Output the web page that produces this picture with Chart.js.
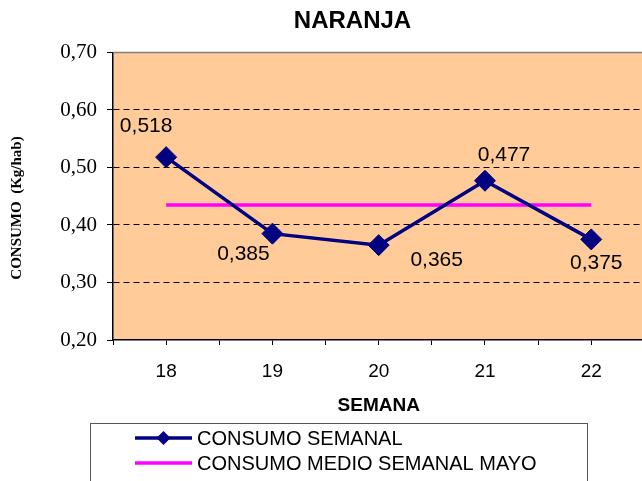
<!DOCTYPE html>
<html>
<head>
<meta charset="utf-8">
<script src="https://cdn.jsdelivr.net/npm/chart.js@4/dist/chart.umd.min.js"></script>
<style>
html,body{margin:0;padding:0;overflow:hidden;background:#fff;width:642px;height:481px;}
canvas{display:block;}
</style>
</head>
<body>
<canvas id="c" width="660" height="481"></canvas>
<script>
// ---- data ----
const semanas = [18, 19, 20, 21, 22];
const consumoSemanal = [0.518, 0.385, 0.365, 0.477, 0.375];
const consumoMedioMayo = [0.435, 0.435, 0.435, 0.435, 0.435];
const valueLabels = ['0,518', '0,385', '0,365', '0,477', '0,375'];
const yTicks = [0.2, 0.3, 0.4, 0.5, 0.6, 0.7];
const chartTitle = 'NARANJA';
const xTitle = 'SEMANA';
const yTitle = 'CONSUMO  (Kg/hab)';
const seriesNames = ['CONSUMO SEMANAL', 'CONSUMO MEDIO SEMANAL MAYO'];

// ---- styling (label placement offsets, px) ----
const labelDx = [-20, -29, 58, 19, 5];
const labelDy = [-31, 21, 15, -26, 24];

const NAVY = '#000080';
const MAGENTA = '#FF00FF';
const SANS = "'Liberation Sans', Arial, sans-serif";
const SERIF = "'Liberation Serif', 'Times New Roman', serif";

const near = (a, b) => Math.abs(a - b) < 1e-6;

const decorPlugin = {
  id: 'decor',
  beforeDraw(chart) {
    const {ctx, chartArea: a} = chart;
    ctx.save();
    ctx.fillStyle = '#FFCC99';
    ctx.fillRect(a.left, a.top, a.right - a.left, a.bottom - a.top);
    ctx.restore();
  },
  afterDraw(chart) {
    const {ctx, chartArea: a} = chart;
    ctx.save();
    // top border of plot area
    ctx.strokeStyle = '#808080';
    ctx.lineWidth = 1.5;
    ctx.beginPath();
    ctx.moveTo(a.left, a.top);
    ctx.lineTo(a.right, a.top);
    ctx.stroke();
    // y axis title
    ctx.fillStyle = '#000';
    ctx.font = 'bold 15px ' + SERIF;
    ctx.textAlign = 'center';
    ctx.textBaseline = 'middle';
    ctx.translate(17, 208);
    ctx.rotate(-Math.PI / 2);
    ctx.fillText(yTitle, 0, 0);
    ctx.restore();

    // legend
    ctx.save();
    ctx.strokeStyle = '#555';
    ctx.lineWidth = 1;
    ctx.strokeRect(90.5, 423.5, 497, 80);
    const rows = [438, 463];
    const colors = [NAVY, MAGENTA];
    rows.forEach((ry, i) => {
      ctx.strokeStyle = colors[i];
      ctx.lineWidth = 3.5;
      ctx.beginPath();
      ctx.moveTo(135, ry);
      ctx.lineTo(192, ry);
      ctx.stroke();
      if (i === 0) {
        ctx.fillStyle = NAVY;
        ctx.beginPath();
        const cx = 163.5, r = 7;
        ctx.moveTo(cx, ry - r);
        ctx.lineTo(cx + r, ry);
        ctx.lineTo(cx, ry + r);
        ctx.lineTo(cx - r, ry);
        ctx.closePath();
        ctx.fill();
      }
      ctx.fillStyle = '#000';
      ctx.font = '20px ' + SANS;
      ctx.textAlign = 'left';
      ctx.textBaseline = 'middle';
      ctx.fillText(seriesNames[i], 197, ry + 1);
    });
    ctx.restore();
  },
  afterDatasetsDraw(chart) {
    const {ctx} = chart;
    const meta = chart.getDatasetMeta(0);
    ctx.save();
    ctx.fillStyle = '#000';
    ctx.font = '21px ' + SANS;
    ctx.textAlign = 'center';
    ctx.textBaseline = 'middle';
    meta.data.forEach((pt, i) => {
      ctx.fillText(valueLabels[i], pt.x + labelDx[i], pt.y + labelDy[i]);
    });
    ctx.restore();
  }
};

new Chart(document.getElementById('c'), {
  type: 'line',
  data: {
    datasets: [
      {
        label: seriesNames[0],
        data: semanas.map((s, i) => ({x: s, y: consumoSemanal[i]})),
        borderColor: NAVY,
        backgroundColor: NAVY,
        borderWidth: 3.5,
        pointStyle: 'rectRot',
        pointRadius: 10.5,
        pointBorderWidth: 1,
        pointBackgroundColor: NAVY,
        pointBorderColor: NAVY,
        tension: 0,
        order: 1
      },
      {
        label: seriesNames[1],
        data: semanas.map((s, i) => ({x: s, y: consumoMedioMayo[i]})),
        borderColor: MAGENTA,
        backgroundColor: MAGENTA,
        borderWidth: 3.5,
        pointRadius: 0,
        tension: 0,
        order: 2
      }
    ]
  },
  options: {
    responsive: false,
    animation: false,
    layout: {padding: {left: 59, right: 14, top: 0, bottom: 63.6}},
    plugins: {
      legend: {display: false},
      tooltip: {enabled: false},
      title: {
        display: true,
        text: chartTitle,
        color: '#000',
        font: {family: SANS, size: 24, weight: 'bold'},
        padding: {top: 6.6, bottom: 17.1}
      }
    },
    scales: {
      x: {
        type: 'linear',
        min: semanas[0] - 0.5,
        max: semanas[semanas.length - 1] + 0.5,
        afterBuildTicks(scale) {
          const t = [];
          for (let v = semanas[0] - 0.5; v <= semanas[semanas.length - 1] + 0.5 + 1e-9; v += 0.5) t.push({value: v});
          scale.ticks = t;
        },
        afterFit(scale) { scale.height = 77.4; },
        ticks: {
          autoSkip: false,
          maxRotation: 0,
          color: '#000',
          font: {family: SANS, size: 19},
          padding: 15.6,
          callback: (v) => (Number.isInteger(v) ? String(v) : '')
        },
        grid: {drawOnChartArea: false, drawTicks: true, tickLength: 5, color: '#000', tickColor: '#000'},
        border: {display: true, color: '#000', width: 1.5},
        title: {
          display: true,
          text: xTitle,
          color: '#000',
          font: {family: SANS, size: 19, weight: 'bold'},
          padding: {top: 11.2, bottom: 0}
        }
      },
      y: {
        min: yTicks[0],
        max: yTicks[yTicks.length - 1],
        afterBuildTicks(scale) {
          scale.ticks = yTicks.map(v => ({value: v}));
        },
        afterFit(scale) { scale.width = 54; },
        ticks: {
          color: '#000',
          font: {family: SERIF, size: 21},
          padding: 10,
          callback: (v) => v.toFixed(2).replace('.', ',')
        },
        grid: {
          drawTicks: true,
          tickLength: 6,
          lineWidth: 1,
          color: (c) => (c.tick && (near(c.tick.value, yTicks[0]) || near(c.tick.value, yTicks[yTicks.length - 1])) ? 'rgba(0,0,0,0)' : '#000'),
          tickColor: '#000',
          tickBorderDash: []
        },
        border: {display: true, color: '#000', width: 1.5, dash: [6, 4]}
      }
    }
  },
  plugins: [decorPlugin]
});
</script>
</body>
</html>
